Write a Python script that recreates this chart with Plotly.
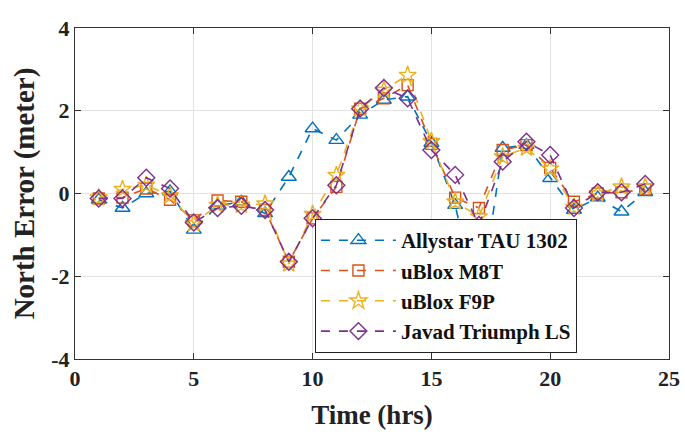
import plotly.graph_objects as go

hours = list(range(1, 25))
allystar = [-0.15, -0.35, 0.0, 0.05, -0.88, -0.3, -0.2, -0.48, 0.4, 1.57, 1.29, 1.9,
            2.26, 2.34, 1.22, -0.28, -2.8, 1.1, 1.17, 0.37, -0.4, -0.1, -0.44, 0.03]
m8t = [-0.12, -0.1, 0.12, -0.15, -0.65, -0.17, -0.2, -0.4, -1.65, -0.6, 0.16, 2.05,
       2.3, 2.62, 1.2, -0.1, -0.35, 1.05, 1.17, 0.62, -0.2, 0.0, 0.03, 0.1]
f9p = [-0.1, 0.1, 0.2, -0.05, -0.72, -0.28, -0.28, -0.25, -1.7, -0.5, 0.44, 2.05,
       2.5, 2.86, 1.26, -0.2, -0.56, 0.89, 1.1, 0.6, -0.33, 0.0, 0.16, 0.16]
javad = [-0.12, -0.12, 0.38, 0.12, -0.7, -0.35, -0.3, -0.4, -1.65, -0.6, 0.2, 2.05,
         2.55, 2.3, 1.05, 0.45, -0.76, 0.77, 1.25, 0.93, -0.35, 0.03, 0.03, 0.23]

x_ticks = [0, 5, 10, 15, 20, 25]
y_ticks = [-4, -2, 0, 2, 4]
y_ticklabels = ["-4", "-2", "0", "2", "4"]

names = ["Allystar TAU 1302", "uBlox M8T", "uBlox F9P", "Javad Triumph LS"]
series = [allystar, m8t, f9p, javad]
colors = ["#0072BD", "#D95319", "#EDB120", "#7E2F8E"]
symbols = ["triangle-up-open", "square-open", "star-open", "diamond-open"]
sizes = [13, 11, 13, 13]

fig = go.Figure()
for n, s, c, sym, sz in zip(names, series, colors, symbols, sizes):
    fig.add_trace(go.Scatter(
        x=hours, y=s, name="<b>" + n + "</b>", mode="lines+markers",
        line=dict(color=c, width=1.6, dash="dash"),
        marker=dict(symbol=sym, size=sz, color=c, line=dict(width=1.4, color=c)),
    ))

font_family = "Liberation Serif"
fig.update_layout(
    width=685, height=434,
    margin=dict(l=75, r=16, t=28, b=75),
    paper_bgcolor="white", plot_bgcolor="white",
    font=dict(family=font_family, color="#222", size=19),
    showlegend=True,
    legend=dict(
        x=0.845, y=0.018, xanchor="right", yanchor="bottom",
        bgcolor="white", bordercolor="#222", borderwidth=1,
        font=dict(family=font_family, size=21, color="#111"),
        itemwidth=75, tracegroupgap=0,
    ),
)
fig.update_xaxes(
    range=[0, 25], tickvals=x_ticks, automargin=False,
    showgrid=True, gridcolor="#e3e3e3", gridwidth=1,
    showline=True, linecolor="#333", linewidth=1, mirror="ticks",
    ticks="inside", ticklen=6, tickcolor="#333",
    zeroline=False,
    tickfont=dict(family=font_family, size=22, weight="bold", color="#222"),
    title=dict(text="<b>Time (hrs)</b>", font=dict(family=font_family, size=27, color="#222"), standoff=14),
)
fig.update_yaxes(
    range=[-4, 4], tickvals=y_ticks, ticktext=y_ticklabels, automargin=False,
    showgrid=True, gridcolor="#e3e3e3", gridwidth=1,
    showline=True, linecolor="#333", linewidth=1, mirror="ticks",
    ticks="inside", ticklen=6, tickcolor="#333",
    zeroline=False,
    tickfont=dict(family=font_family, size=22, weight="bold", color="#222"),
    title=dict(text="<b>North Error (meter)</b>", font=dict(family=font_family, size=29, color="#222"), standoff=8),
)

fig.write_html("out.html", config={"displayModeBar": False},
               post_script="document.body.style.margin='0';document.body.style.overflow='hidden';")
